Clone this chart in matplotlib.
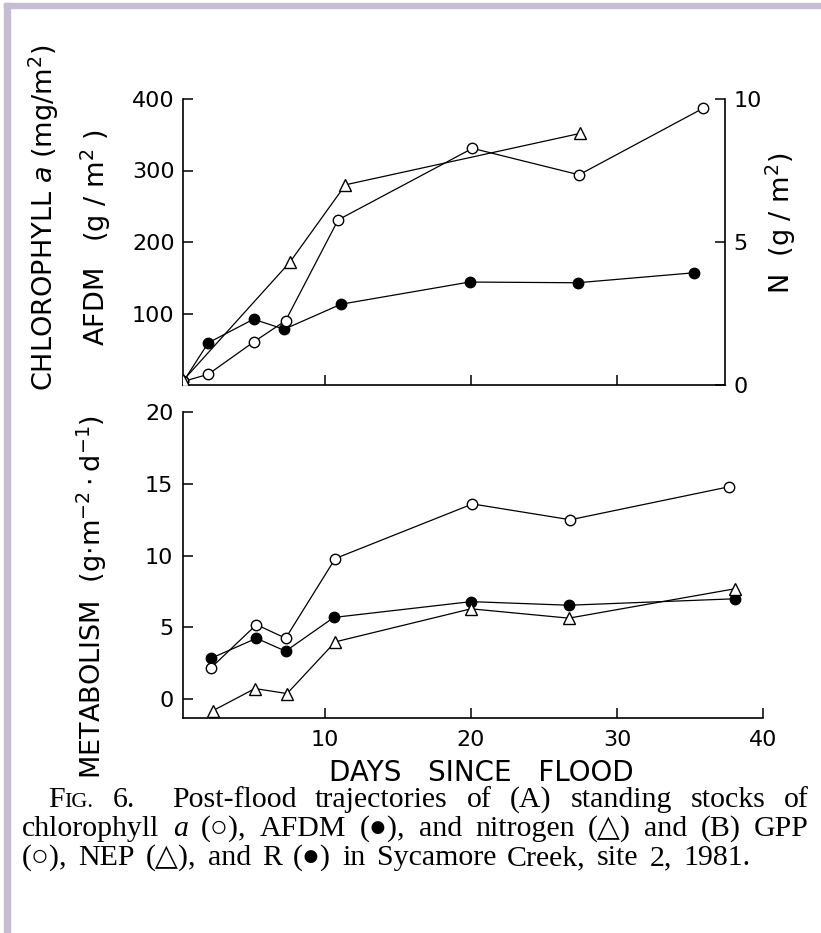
import matplotlib
matplotlib.use('Agg')
import matplotlib.pyplot as plt
from matplotlib.patches import Rectangle

# ---------------- data ----------------
# (A) standing stocks
days_chl = [0.3, 2.0, 5.1, 7.3, 10.9, 20.1, 27.4, 35.9]
chl_a = [5, 15, 60, 90, 231, 331, 294, 387]          # mg/m2
days_afdm = [0.3, 2.0, 5.1, 7.2, 11.1, 19.9, 27.3, 35.3]
afdm = [5, 59, 92, 78, 113, 144, 143, 157]           # g/m2
days_n = [0.3, 7.6, 11.4, 27.5]
nitrogen = [0.17, 4.3, 7.0, 8.8]                      # g/m2

# (B) metabolism
days_gpp = [2.2, 5.3, 7.3, 10.7, 20.1, 26.8, 37.7]
gpp = [2.2, 5.2, 4.25, 9.8, 13.6, 12.5, 14.8]
days_nep = [2.3, 5.2, 7.4, 10.7, 20.0, 26.7, 38.1]
nep = [-0.8, 0.75, 0.4, 4.0, 6.3, 5.65, 7.7]
days_r = [2.2, 5.3, 7.3, 10.6, 20.0, 26.7, 38.1]
resp = [2.86, 4.25, 3.35, 5.7, 6.8, 6.55, 7.0]

top_left_ticks = [100, 200, 300, 400]
top_right_ticks = [0, 5, 10]
bottom_y_ticks = [0, 5, 10, 15, 20]
x_ticks = [10, 20, 30, 40]

# ---------------- style ----------------
plt.rcParams['font.family'] = ['DejaVu Sans']
plt.rcParams['mathtext.fontset'] = 'dejavusans'

W, H = 821, 933
fig = plt.figure(figsize=(W / 100, H / 100), dpi=100)


def fx(px):
    return px / W


def fy(py):
    return 1 - py / H


border = '#c6bdd4'
fig.patches.append(Rectangle((fx(4), 0), fx(10) - fx(4), fy(3), transform=fig.transFigure,
                             color=border, zorder=0))
fig.patches.append(Rectangle((fx(4), fy(8)), 1, fy(3) - fy(8), transform=fig.transFigure,
                             color=border, zorder=0))

line_kw = dict(color='black', lw=0.9)
open_c = dict(marker='o', ms=7.5, mfc='white', mec='black', mew=1.0)
fill_c = dict(marker='o', ms=7.5, mfc='black', mec='black', mew=1.0)
tri = dict(marker='^', ms=8, mfc='white', mec='black', mew=1.0)

tick_fs = 16
label_fs = 19.5

# ---------------- top panel ----------------
ax1 = fig.add_axes([fx(183), fy(385), fx(725) - fx(183), fy(99) - fy(385)])
ax1.set_xlim(0.27, 37.4)
ax1.set_ylim(0, 400)
ax2 = ax1.twinx()
ax2.set_ylim(0, 10)

ax1.plot(days_afdm, afdm, **line_kw, **fill_c, zorder=3)
ax1.plot(days_chl, chl_a, **line_kw, **open_c, zorder=4)
ax2.plot(days_n, nitrogen, **line_kw, **tri, zorder=5)

ax1.set_xticks(x_ticks[:3])
ax1.set_xticklabels([])
ax1.set_yticks(top_left_ticks)
ax2.set_yticks(top_right_ticks)
for a in (ax1, ax2):
    a.spines['top'].set_visible(False)
    for s in a.spines.values():
        s.set_linewidth(1.2)
ax1.spines['right'].set_visible(False)
ax2.spines['left'].set_visible(False)
ax2.spines['bottom'].set_visible(False)
ax1.tick_params(direction='in', length=7, width=1.1, labelsize=tick_fs, pad=6)
ax2.tick_params(direction='in', length=7, width=1.1, labelsize=tick_fs, pad=6)

# ---------------- bottom panel ----------------
ax3 = fig.add_axes([fx(183), fy(718), fx(763) - fx(183), fy(412) - fy(718)])
ax3.set_xlim(0.27, 40.0)
ax3.set_ylim(-1.3, 20)
ax3.plot(days_r, resp, **line_kw, **fill_c, zorder=3)
ax3.plot(days_nep, nep, **line_kw, **tri, zorder=4)
ax3.plot(days_gpp, gpp, **line_kw, **open_c, zorder=5)
ax3.set_xticks(x_ticks)
ax3.set_yticks(bottom_y_ticks)
ax3.spines['top'].set_visible(False)
ax3.spines['right'].set_visible(False)
for s in ax3.spines.values():
    s.set_linewidth(1.2)
ax3.tick_params(direction='in', length=7, width=1.1, labelsize=tick_fs, pad=7)
ax3.tick_params(axis='x', pad=9)

# ---------------- axis titles ----------------
fig.text(fx(44), fy(218), r'CHLOROPHYLL $a$ (mg/m$^2$)', rotation=90, ha='center', va='center',
         fontsize=label_fs)
fig.text(fx(96), fy(238), r'AFDM   (g / m$^2$ )', rotation=90, ha='center', va='center',
         fontsize=label_fs)
fig.text(fx(781), fy(223), r'N  (g / m$^2$)', rotation=90, ha='center', va='center',
         fontsize=label_fs)
fig.text(fx(92), fy(597), r'METABOLISM  (g$\cdot$m$^{-2}\cdot$d$^{-1}$)', rotation=90,
         ha='center', va='center', fontsize=label_fs)
fig.text(fx(481), fy(773), 'DAYS   SINCE   FLOOD', ha='center', va='center', fontsize=20)

# ---------------- caption (justified) ----------------
serif = ['Liberation Serif', 'DejaVu Sans']
cap_fs = 21.5
renderer = fig.canvas.get_renderer()


def seg_width(s, kw):
    t = fig.text(0, 0, s, **kw)
    w = t.get_window_extent(renderer).width
    t.remove()
    return w


def place_line(x0, x1, base_px, words):
    widths = [sum(seg_width(s, kw) for s, kw in w) for w in words]
    gap = (x1 - x0 - sum(widths)) / (len(words) - 1)
    x = x0
    for w, ww in zip(words, widths):
        xi = x
        for s, kw in w:
            fig.text(fx(xi), fy(base_px), s, ha='left', va='baseline', **kw)
            xi += seg_width(s, kw)
        x += ww + gap


N = dict(family=serif, fontsize=cap_fs)
SC = dict(family=serif, fontsize=cap_fs * 0.74)
IT = dict(family=serif, fontsize=cap_fs, style='italic')


def plain(text):
    return [[(w, N)] for w in text.split(' ')]


line1 = [[('F', N), ('IG.', SC)], [('6.', N)], [('', N)]] + \
    plain('Post-flood trajectories of (A) standing stocks of')
line2 = [[('chlorophyll', N)], [('a', IT)]] + plain('(○), AFDM (●), and nitrogen (△) and (B) GPP')
line3 = plain('(○), NEP (△), and R (●) in Sycamore Creek, site 2, 1981.')

place_line(48, 809, 807, line1)
place_line(22, 809, 836, line2)
place_line(22, 750, 865, line3)

fig.savefig('out.png', dpi=100)
